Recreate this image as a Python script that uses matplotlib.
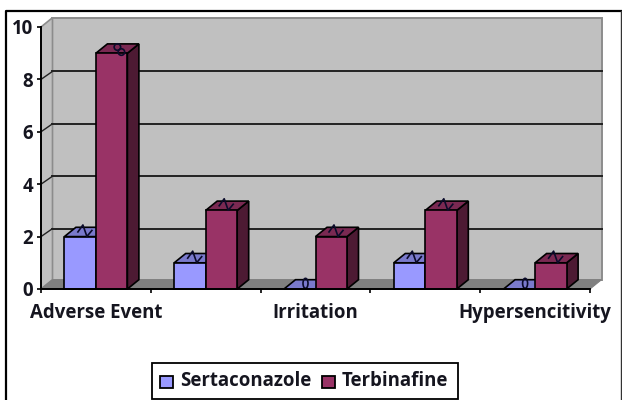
import matplotlib
matplotlib.use("Agg")
import matplotlib.pyplot as plt
from matplotlib.patches import Polygon, Rectangle, Ellipse

categories = ["Adverse Event", "", "Irritation", "", "Hypersencitivity"]
series_names = ["Sertaconazole", "Terbinafine"]
sertaconazole = [2, 1, 0, 1, 0]
terbinafine = [9, 3, 2, 3, 1]
y_ticks = [0, 2, 4, 6, 8, 10]

W, H = 622, 400
FONT = "Open Sans"
FS = 13.4
TXT = "#15151f"
fig = plt.figure(figsize=(W / 100, H / 100), dpi=100, facecolor="white")

# outer frame (left and top heavy, right thin, no bottom edge)
fig.add_artist(plt.Line2D([5.5 / W, 5.5 / W, 621 / W], [0, 1 - 10.5 / H, 1 - 10.5 / H], color="black", lw=1.6))
fig.add_artist(plt.Line2D([621 / W, 621 / W], [0, 1 - 10.5 / H], color="#333333", lw=1.0))

L, R, T, B = 41.0, 590.0, 27.0, 289.0
ax = fig.add_axes([L / W, 1 - B / H, (R - L) / W, (B - T) / H])
ax.set_xlim(0, 5)
ax.set_ylim(0, 10)
ax.patch.set_alpha(0)
ux = (R - L) / 5
uy = (B - T) / 10
DX, DY = 11.5 / ux, 9.3 / uy   # oblique depth in data units
GY = 8.0 / uy                  # gridline rise on the back wall


def poly(pts, fc, ec="black", lw=1.2, z=3):
    ax.add_patch(Polygon(pts, closed=True, fc=fc, ec=ec, lw=lw, zorder=z, clip_on=False, joinstyle="miter"))


# walls and floor
poly([(DX, DY), (5 + DX, DY), (5 + DX, 10 + DY), (DX, 10 + DY)], "#c0c0c0", "#8c8c8c", 1.4, 1)
poly([(0, 0), (DX, DY), (DX, 10 + DY), (0, 10)], "#c0c0c0", "#8c8c8c", 1.2, 1)
poly([(0, 0), (5, 0), (5 + DX, DY), (DX, DY)], "#808080", "#808080", 0.8, 1)

# gridlines on back and side wall
for t in y_ticks:
    if t in (2, 4, 6, 8):
        ax.plot([DX, 5 + DX], [t + GY, t + GY], color="#222222", lw=1.4, zorder=2, clip_on=False)
        ax.plot([0, DX], [t, t + GY], color="#222222", lw=1.0, zorder=2, clip_on=False)


def glyph(x0, w, v, z):
    """Small distorted error-bar mark that sits on each bar top."""
    cx, cy = x0 + w * 0.5 + DX * 0.5, v + DY * 0.5
    ink = "#0b0b2a"
    if v == 0:
        ax.add_patch(Ellipse((cx, cy + 1 / uy), 5 / ux, 10 / uy, angle=0, fc="none", ec=ink, lw=1.2,
                             zorder=z + 1, clip_on=False))
    elif v == 9:
        for ox, oy in ((0, 1.5), (4, -3.5)):
            ax.add_patch(Ellipse((cx + ox / ux, cy + oy / uy), 6.5 / ux, 6.5 / uy, fc="none", ec=ink, lw=1.2,
                                 zorder=z + 1, clip_on=False))
    else:
        ox = [-8, -3, 1, 6]
        oy = [0, 7, -4.5, 1.5]
        ax.plot([cx + o / ux for o in ox], [cy + o / uy for o in oy], color=ink, lw=1.2,
                zorder=z + 1, clip_on=False)


def bar3d(x0, w, v, front, top, side, z):
    poly([(x0 + w, 0), (x0 + w + DX, DY), (x0 + w + DX, v + DY), (x0 + w, v)], side, z=z)
    poly([(x0, v), (x0 + w, v), (x0 + w + DX, v + DY), (x0 + DX, v + DY)], top, z=z)
    if v > 0:
        ax.add_patch(Rectangle((x0, 0), w, v, fc=front, ec="black", lw=1.2, zorder=z, clip_on=False))
    glyph(x0, w, v, z)


BW = 31.5 / ux
for i, (a, b) in enumerate(zip(sertaconazole, terbinafine)):
    c = i + 0.5
    bar3d(c - BW, BW, a, "#9999ff", "#7a7acc", "#5c5c99", 3 + i * 2)
    bar3d(c, BW, b, "#993366", "#7a2952", "#4d1a33", 4 + i * 2)

# axes
for s in ("top", "right"):
    ax.spines[s].set_visible(False)
for s in ("left", "bottom"):
    ax.spines[s].set_linewidth(1.4)
    ax.spines[s].set_zorder(30)
ax.set_yticks(y_ticks)
ax.set_xticks(range(6))
ax.set_xticklabels([])
ax.tick_params(axis="both", length=3, width=1.2, direction="out", color="black")
ax.set_yticklabels([str(t) for t in y_ticks], fontsize=FS, fontweight="bold", family=FONT, color=TXT)
ax.tick_params(axis="y", pad=2.5)

for i, lab in enumerate(categories):
    if lab:
        ax.text(i + 0.5, -24 / uy, lab, ha="center", va="center", fontsize=FS, fontweight="bold",
                family=FONT, color=TXT, clip_on=False)

# legend
fig.add_artist(Rectangle((151.5 / W, 1 - 399 / H), 306.5 / W, 36 / H, transform=fig.transFigure,
                         fc="white", ec="black", lw=1.3))
for name, col, sx, tx in zip(series_names, ["#9999ff", "#993366"], [160, 322], [180, 342]):
    fig.add_artist(Rectangle((sx / W, 1 - 388 / H), 13 / W, 12 / H, transform=fig.transFigure,
                             fc=col, ec="black", lw=1.3))
    fig.text(tx / W, 1 - 381 / H, name, ha="left", va="center", fontsize=FS, fontweight="bold",
             family=FONT, color=TXT)

fig.savefig("out.png", dpi=100)
